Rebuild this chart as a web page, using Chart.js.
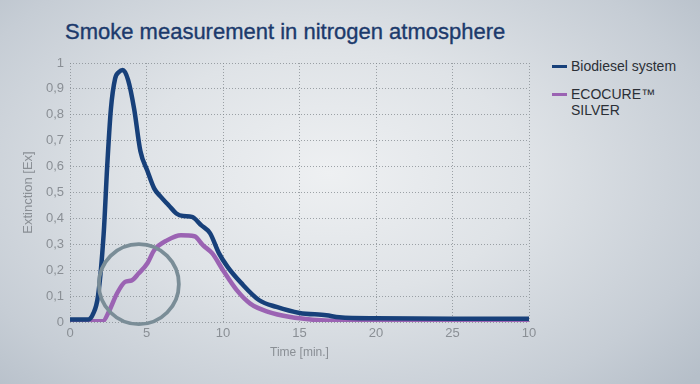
<!DOCTYPE html>
<html>
<head>
<meta charset="utf-8">
<script src="https://cdn.jsdelivr.net/npm/chart.js@4"></script>
<style>
  html, body { margin: 0; padding: 0; }
  body {
    width: 700px; height: 384px; overflow: hidden; position: relative;
    font-family: "Liberation Sans", Arial, sans-serif;
    background: radial-gradient(ellipse 70% 80% at 47% 45%, #eef0f2 0%, #dfe3e7 40%, #c6cdd5 80%, #b6bfc9 100%);
  }
  #title {
    position: absolute; left: 65px; top: 19px;
    font-size: 22px; color: #1c3a6c; white-space: nowrap;
    -webkit-text-stroke: 0.35px #1c3a6c;
  }
  #legend { position: absolute; left: 552px; top: 58px; font-size: 14px; color: #2b2f36; }
  .item { position: relative; padding-left: 19px; line-height: 16px; margin-bottom: 12px; }
  .item .swatch { position: absolute; left: 0; top: 7px; width: 15px; height: 3px; }
  canvas { position: absolute; left: 0; top: 0; }
</style>
</head>
<body>
<div id="title">Smoke measurement in nitrogen atmosphere</div>
<div id="legend"></div>
<canvas id="chart" width="700" height="384"></canvas>
<script>
// series names
var seriesNames = ["Biodiesel system", "ECOCURE™\nSILVER"];

// Biodiesel system: time [min.] and extinction
var bioTime   = [0, 1.2, 1.5, 1.83, 2.2, 2.43, 2.67, 2.95, 3.2, 3.45, 3.8, 4.2, 4.6, 5.05, 5.5, 5.94, 6.46, 6.95, 7.4, 7.97, 8.57, 9.15, 9.74, 10.3, 11.2, 12.37, 13.5, 15, 16.75, 17.6, 20, 25, 30];
var bioValues = [0.01, 0.01, 0.03, 0.1, 0.34, 0.6, 0.82, 0.94, 0.965, 0.973, 0.934, 0.82, 0.66, 0.585, 0.516, 0.483, 0.45, 0.419, 0.409, 0.406, 0.374, 0.343, 0.265, 0.213, 0.15, 0.084, 0.058, 0.035, 0.026, 0.018, 0.014, 0.013, 0.013];

// ECOCURE SILVER: time [min.] and extinction
var ecoTime   = [0, 2.14, 2.58, 3.07, 3.6, 4.04, 4.48, 5.06, 5.5, 6.37, 7.25, 8.13, 8.7, 9.3, 10.0, 10.9, 11.78, 12.95, 14.4, 15.87, 17.6, 20, 25, 30];
var ecoValues = [0.003, 0.003, 0.045, 0.11, 0.155, 0.161, 0.187, 0.227, 0.277, 0.316, 0.335, 0.331, 0.296, 0.265, 0.2, 0.123, 0.071, 0.039, 0.019, 0.009, 0.004, 0.003, 0.003, 0.003];

// tick labels (the last x label reads "10" in the original)
var xTickLabels = ["0", "5", "10", "15", "20", "25", "10"];
var yTickLabels = ["0", "0,1", "0,2", "0,3", "0,4", "0,5", "0,6", "0,7", "0,8", "0,9", "1"];

// highlighted region (data units)
var circleCenter = { x: 4.5, y: 0.146 };

var colors = ["#17407a", "#9b63b3"];

function toPoints(xs, ys) {
    var pts = [];
    for (var i = 0; i < xs.length; i++) pts.push({ x: xs[i], y: ys[i] });
    return pts;
}

// html legend
var legend = document.getElementById("legend");
for (var i = 0; i < seriesNames.length; i++) {
    var item = document.createElement("div");
    item.className = "item";
    item.innerHTML = "<span class=\"swatch\" style=\"background:" + colors[i] + "\"></span>" +
        seriesNames[i].replace("\n", "<br>");
    legend.appendChild(item);
}

var circlePlugin = {
    id: "circle",
    afterDatasetsDraw: function(chart) {
        var ctx = chart.ctx;
        var cx = chart.scales.x.getPixelForValue(circleCenter.x);
        var cy = chart.scales.y.getPixelForValue(circleCenter.y);
        ctx.save();
        ctx.beginPath();
        ctx.arc(cx, cy, 40, 0, Math.PI * 2);
        ctx.lineWidth = 3.8;
        ctx.strokeStyle = "#7a8d97";
        ctx.stroke();
        ctx.restore();
    }
};

var tickFont = { family: "Liberation Sans", size: 13 };
var tickColor = "#8a8f95";
var gridColor = "rgba(130,136,142,0.75)";

new Chart(document.getElementById("chart"), {
    type: "line",
    data: {
        datasets: [
            { label: seriesNames[0], data: toPoints(bioTime, bioValues), borderColor: colors[0], borderWidth: 4.5, pointRadius: 0, cubicInterpolationMode: "monotone", fill: false },
            { label: seriesNames[1], data: toPoints(ecoTime, ecoValues), borderColor: colors[1], borderWidth: 4.5, pointRadius: 0, cubicInterpolationMode: "monotone", fill: false }
        ]
    },
    options: {
        responsive: false,
        animation: false,
        layout: { padding: { left: 17, top: 63, right: 171, bottom: 20 } },
        plugins: { legend: { display: false }, tooltip: { enabled: false } },
        scales: {
            x: {
                type: "linear", min: 0, max: 30,
                afterFit: function(scale) { scale.height = 42; },
                ticks: { stepSize: 5, padding: 4, color: tickColor, font: tickFont,
                    callback: function(v) { return xTickLabels[Math.round(v / 5)]; } },
                grid: { color: gridColor, lineWidth: 1, drawTicks: false },
                border: { display: false, dash: [1, 2] },
                title: { display: true, text: "Time [min.]", color: tickColor, font: { family: "Liberation Sans", size: 12 }, padding: { top: 4, bottom: 4 } }
            },
            y: {
                min: 0, max: 1,
                afterFit: function(scale) { scale.width = 53; },
                ticks: { stepSize: 0.1, padding: 6, color: tickColor, font: tickFont,
                    callback: function(v) { return yTickLabels[Math.round(v * 10)]; } },
                grid: { color: gridColor, lineWidth: 1, drawTicks: false },
                border: { display: false, dash: [1, 2] },
                title: { display: true, text: "Extinction [Ex]", color: tickColor, font: { family: "Liberation Sans", size: 13 }, padding: { top: 4, bottom: 4 } }
            }
        }
    },
    plugins: [circlePlugin]
});
</script>
</body>
</html>
